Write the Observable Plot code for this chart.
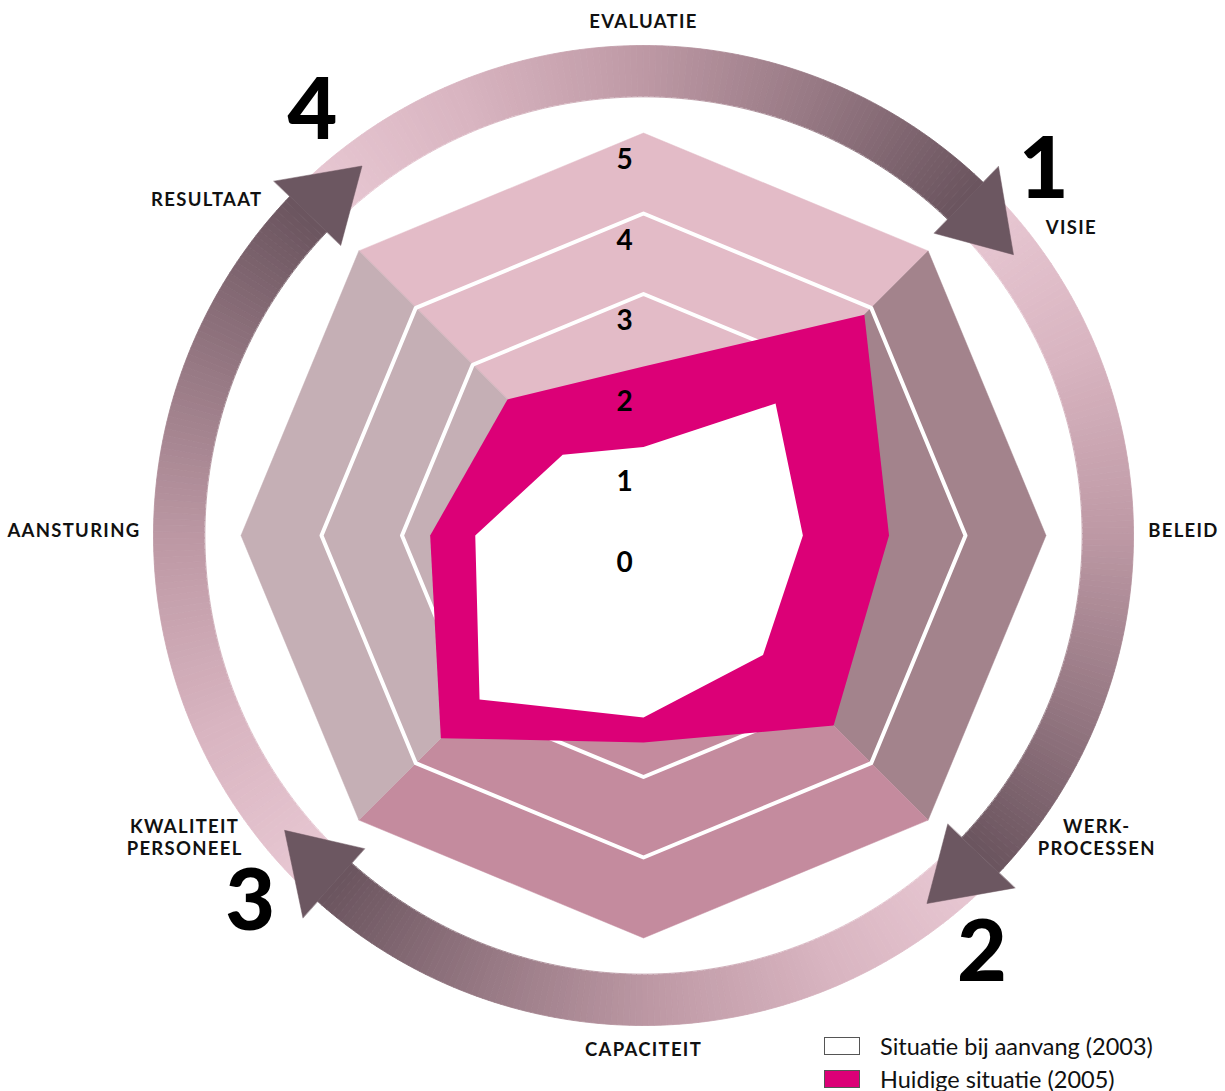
<!DOCTYPE html>
<html><head><meta charset="utf-8">
<script src="https://cdn.jsdelivr.net/npm/d3@7"></script>
<script src="https://cdn.jsdelivr.net/npm/@observablehq/plot@0.6"></script>
<style>
body{margin:0;background:#fff;}
#wrap{position:relative;width:1225px;height:1091px;}
#legend{position:absolute;left:824px;top:1029px;font-family:Lato,"Open Sans",sans-serif;font-size:23.5px;color:#111;}
#legend .row{display:flex;align-items:center;height:33px;}
#legend .sw{width:36px;height:18px;border:1px solid #555;margin-right:20px;box-sizing:border-box;}
g[font-family="Lato, Arial, sans-serif"]{letter-spacing:1.3px;}
</style></head><body><div id="wrap"></div>
<script>
// ---- data ----
const axes = ["EVALUATIE","VISIE","BELEID","WERK-\nPROCESSEN","CAPACITEIT","KWALITEIT\nPERSONEEL","AANSTURING","RESULTAAT"];
const situatie2003 = [1.10, 2.32, 1.98, 2.10, 2.26, 2.88, 2.09, 1.42];
const situatie2005 = [2.10, 3.88, 3.05, 3.34, 2.57, 3.56, 2.65, 2.39];
const levels = [0, 1, 2, 3, 4, 5];
const gridLevels = [3, 4];
const phaseNumbers = ["1", "2", "3", "4"];
const seriesNames = ["Situatie bij aanvang (2003)", "Huidige situatie (2005)"];
const seriesColors = ["#ffffff", "#dc0077"];

// ---- layout / style ----
const W = 1225, H = 1091;
const cx = 643, cy = 535, unit = 80.5;
const wedgeColors = ["#e3bbc7", "#a3838c", "#c48b9e", "#c5afb5"];
const ringInner = 439 / unit, ringOuter = 490 / unit;
const arrowStart = [-45.5, 44.5, 134.3, 222.5];
const arrowEnd = [43.9, 133.5, 221.7, 313.8];
const tipOffset = 8.9, headInner = 5.21, headOuter = 6.36;
const labelAngle = [0, 52.5, 89.4, 123.6, 180, 236.7, 270.7, 311.5];
const labelRadius = [6.39, 6.30, 6.27, 6.76, 6.37, 6.82, 6.25, 6.32];
const labelAnchor = ["middle", "start", "start", "middle", "middle", "middle", "end", "end"];
const phaseAngle = [47.6, 141, 227, 322], phaseRadius = [6.73, 6.68, 6.68, 6.68];

const rad = d => d * Math.PI / 180;
const pt = (r, a) => ({x: r * Math.sin(rad(a)), y: r * Math.cos(rad(a))});
const n = axes.length, step = 360 / n;

const wedges = wedgeColors.flatMap((color, q) => {
  const c = q * 90;
  return [pt(0, 0), pt(5, c - 45), pt(5, c), pt(5, c + 45)].map(p => ({...p, q, color}));
});
const grid = gridLevels.flatMap(l => d3.range(n).map(i => ({...pt(l, i * step), l})));
const poly = vals => vals.map((v, i) => pt(v, i * step));

const shaftColor = d3.scaleLinear().domain([0, 0.25, 0.5, 0.75, 1])
  .range(["#e9c9d4", "#d9b5c1", "#bf9aa6", "#967883", "#6a545e"]);
const N = 120, shafts = [];
arrowStart.forEach((s, k) => {
  const e = arrowEnd[k];
  for (let j = 0; j < N; j++) {
    const a0 = s + (e - s) * j / N, a1 = s + (e - s) * (j + 1) / N;
    const color = shaftColor((j + 0.5) / N), id = k * N + j;
    [pt(ringInner, a0), pt(ringOuter, a0), pt(ringOuter, a1), pt(ringInner, a1)]
      .forEach(p => shafts.push({...p, id, color}));
  }
});
const mid = (ringInner + ringOuter) / 2;
const heads = arrowEnd.flatMap((b, k) =>
  [pt(headInner, b), pt(mid, b + tipOffset), pt(headOuter, b)].map(p => ({...p, k})));

const labels = axes.map((t, i) => ({...pt(labelRadius[i], labelAngle[i]), t, anchor: labelAnchor[i]}));
const phases = phaseNumbers.map((t, i) => ({...pt(phaseRadius[i], phaseAngle[i]), t}));

const textMark = anchor => Plot.text(labels.filter(d => d.anchor === anchor), {
  x: "x", y: "y", text: "t", textAnchor: anchor, fontSize: 18.5, fontWeight: 700,
  fontFamily: "Lato, Arial, sans-serif", fill: "#111", lineHeight: 1.22
});

const chart = Plot.plot({
  width: W, height: H, margin: 0,
  x: {domain: [-cx / unit, (W - cx) / unit], range: [0, W], axis: null},
  y: {domain: [-(H - cy) / unit, cy / unit], range: [H, 0], axis: null},
  style: {fontFamily: "Lato, sans-serif", background: "#fff"},
  marks: [
    Plot.line(wedges, {x: "x", y: "y", z: "q", fill: "color", stroke: "color", strokeWidth: 0.5, curve: "linear-closed"}),
    Plot.line(grid, {x: "x", y: "y", z: "l", stroke: "#fff", strokeWidth: 4, curve: "linear-closed"}),
    Plot.line(poly(situatie2005), {x: "x", y: "y", fill: seriesColors[1], stroke: "none", curve: "linear-closed"}),
    Plot.line(poly(situatie2003), {x: "x", y: "y", fill: seriesColors[0], stroke: "none", curve: "linear-closed"}),
    Plot.text(levels, {x: () => -19 / unit, y: d => d - 0.34, text: d => String(d), fontSize: 28, fontWeight: 700, fill: "#000"}),
    Plot.line(shafts, {x: "x", y: "y", z: "id", fill: "color", stroke: "color", strokeWidth: 0.8, curve: "linear-closed"}),
    Plot.line(heads, {x: "x", y: "y", z: "k", fill: "#6c5761", stroke: "#6c5761", strokeWidth: 0.5, curve: "linear-closed"}),
    textMark("middle"), textMark("start"), textMark("end"),
    Plot.text(phases, {x: "x", y: "y", text: "t", fontSize: 86, fontWeight: 900, fill: "#000"})
  ]
});
const wrap = document.getElementById("wrap");
wrap.appendChild(chart);
const legend = document.createElement("div");
legend.id = "legend";
legend.innerHTML = seriesNames.map((s, i) =>
  `<div class="row"><span class="sw" style="background:${seriesColors[i]}"></span><span>${s}</span></div>`).join("");
wrap.appendChild(legend);
</script></body></html>
